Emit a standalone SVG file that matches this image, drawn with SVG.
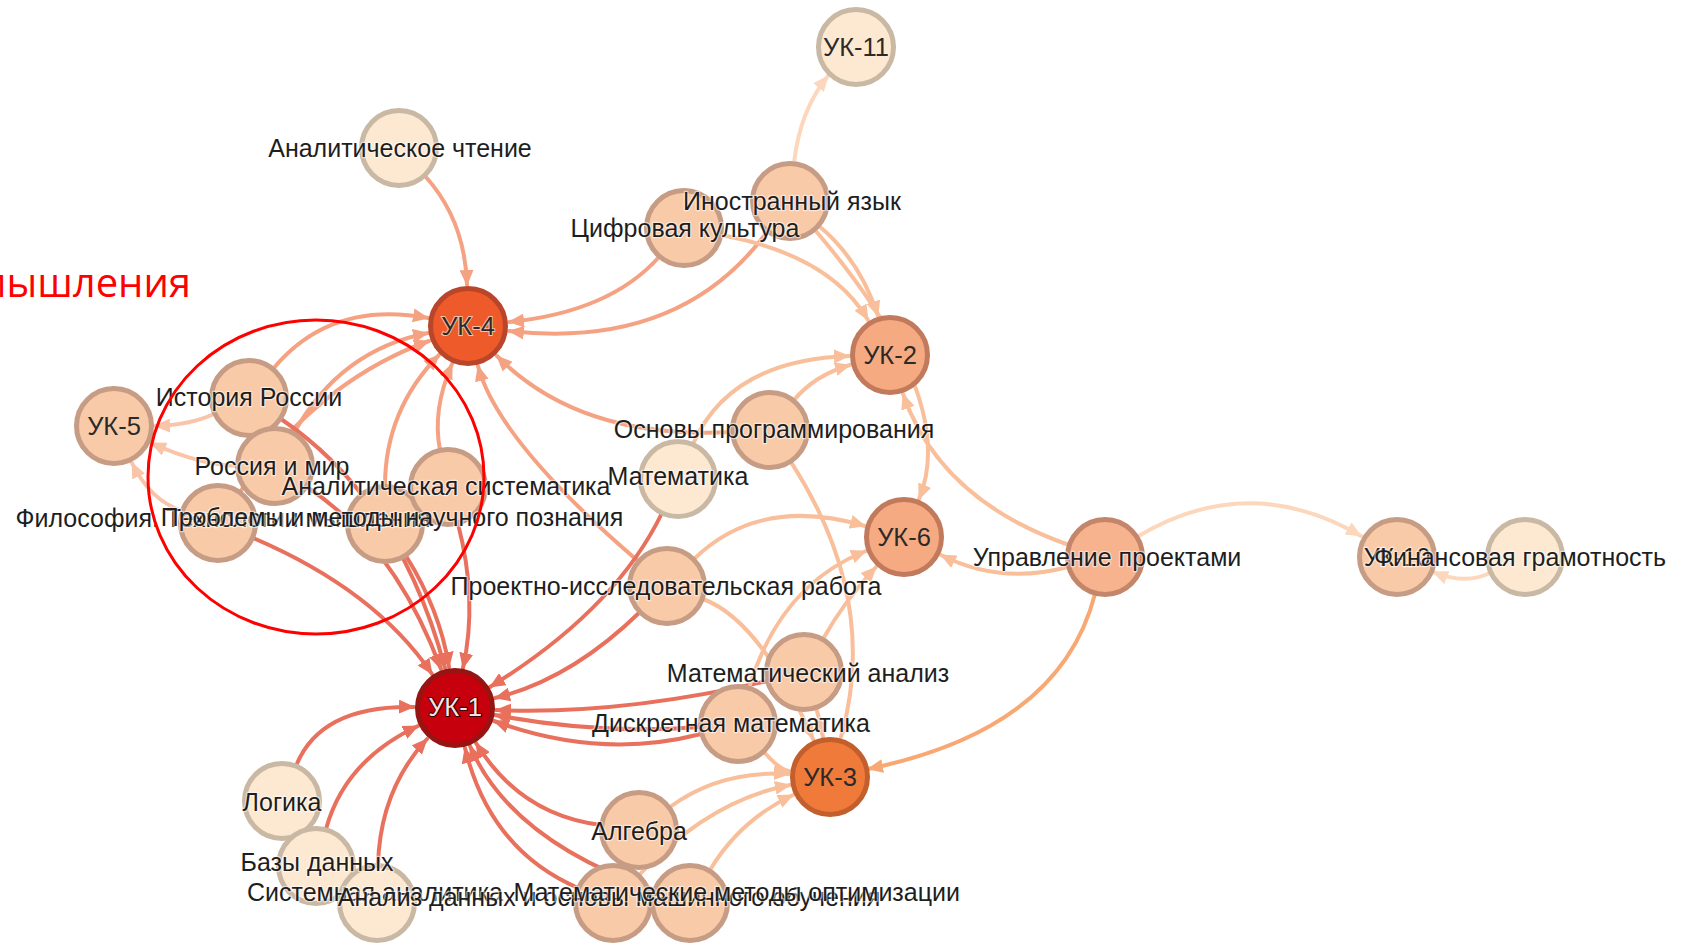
<svg xmlns="http://www.w3.org/2000/svg" width="1686" height="946" viewBox="0 0 1686 946">
<style>
.e{fill:none;stroke-width:4;stroke-linecap:round}
.c1{stroke:#e8705c}
.c4{stroke:#f5a283}
.c5{stroke:#f9c4a8}
.cp{stroke:#f9bf9b}
.co{stroke:#f8a872}
.cl{stroke:#fcd7bb}
.cream{fill:#fde9d2;stroke:#c8b8a4;stroke-width:5}
.peach{fill:#f9caa8;stroke:#c69c84;stroke-width:5}
.mid{fill:#f6aa82;stroke:#c27a5c;stroke-width:5}
.lbl{font-family:"Liberation Sans",Arial,sans-serif;font-size:25px;fill:#1e1e1e;text-anchor:middle;stroke:#ffffff;stroke-opacity:0.55;stroke-width:2.5;paint-order:stroke;stroke-linejoin:round}
.uk{font-family:"Liberation Sans",Arial,sans-serif;font-size:25.5px;fill:#2a2a2a;text-anchor:middle}
</style>
<defs>
<marker id="a1" markerUnits="userSpaceOnUse" markerWidth="16" markerHeight="14" viewBox="0 0 16 14" refX="15" refY="7" orient="auto"><path d="M0,0 L16,7 L0,14 z" fill="#e8705c"/></marker>
<marker id="a4" markerUnits="userSpaceOnUse" markerWidth="16" markerHeight="14" viewBox="0 0 16 14" refX="15" refY="7" orient="auto"><path d="M0,0 L16,7 L0,14 z" fill="#f5a283"/></marker>
<marker id="a5" markerUnits="userSpaceOnUse" markerWidth="16" markerHeight="14" viewBox="0 0 16 14" refX="15" refY="7" orient="auto"><path d="M0,0 L16,7 L0,14 z" fill="#f9c4a8"/></marker>
<marker id="ap" markerUnits="userSpaceOnUse" markerWidth="16" markerHeight="14" viewBox="0 0 16 14" refX="15" refY="7" orient="auto"><path d="M0,0 L16,7 L0,14 z" fill="#f9bf9b"/></marker>
<marker id="ao" markerUnits="userSpaceOnUse" markerWidth="16" markerHeight="14" viewBox="0 0 16 14" refX="15" refY="7" orient="auto"><path d="M0,0 L16,7 L0,14 z" fill="#f8a872"/></marker>
<marker id="al" markerUnits="userSpaceOnUse" markerWidth="16" markerHeight="14" viewBox="0 0 16 14" refX="15" refY="7" orient="auto"><path d="M0,0 L16,7 L0,14 z" fill="#fcd7bb"/></marker>
</defs>
<rect width="1686" height="946" fill="#ffffff"/>
<g id="edges">
<path class="e c4" marker-end="url(#a4)" d="M425,176 Q465,220 467,285"/>
<path class="e c4" marker-end="url(#a4)" d="M659,257 Q610,312 509,322"/>
<path class="e c4" marker-end="url(#a4)" d="M767,232 Q680,350 509,331"/>
<path class="e c4" marker-end="url(#a4)" d="M273,369 Q330,300 428,318"/>
<path class="e c4" marker-end="url(#a4)" d="M294,433 Q340,350 428,333"/>
<path class="e c4" marker-end="url(#a4)" d="M240,492 Q320,380 429,341"/>
<path class="e c4" marker-end="url(#a4)" d="M440,450 Q432,410 452,364"/>
<path class="e c4" marker-end="url(#a4)" d="M385,486 Q385,410 439,355"/>
<path class="e c4" marker-end="url(#a4)" d="M732,432 Q580,440 497,356"/>
<path class="e c4" marker-end="url(#a4)" d="M638,561 Q498,441 478,366"/>
<path class="e c5" marker-end="url(#a5)" d="M214,414 Q190,425 155,426"/>
<path class="e c5" marker-end="url(#a5)" d="M237,466 Q200,465 151,443"/>
<path class="e c5" marker-end="url(#a5)" d="M182,511 Q150,500 132,463"/>
<path class="e c1" marker-end="url(#a1)" d="M281,419 Q400,500 445,668"/>
<path class="e c1" marker-end="url(#a1)" d="M307,487 Q395,545 441,669"/>
<path class="e c1" marker-end="url(#a1)" d="M253,538 Q375,590 432,674"/>
<path class="e c1" marker-end="url(#a1)" d="M458,524 Q478,600 463,668"/>
<path class="e c1" marker-end="url(#a1)" d="M406,556 Q440,610 449,667"/>
<path class="e c1" marker-end="url(#a1)" d="M662,513 Q615,610 490,687"/>
<path class="e c1" marker-end="url(#a1)" d="M640,612 Q570,680 495,698"/>
<path class="e c1" marker-end="url(#a1)" d="M701,734 Q600,760 494,721"/>
<path class="e c1" marker-end="url(#a1)" d="M700,727 Q600,735 495,715"/>
<path class="e c1" marker-end="url(#a1)" d="M767,681 Q620,715 496,710"/>
<path class="e c1" marker-end="url(#a1)" d="M601,825 Q520,815 476,743"/>
<path class="e c1" marker-end="url(#a1)" d="M578,888 Q490,850 465,748"/>
<path class="e c1" marker-end="url(#a1)" d="M654,890 Q510,840 470,746"/>
<path class="e c1" marker-end="url(#a1)" d="M296,766 Q320,705 414,707"/>
<path class="e c1" marker-end="url(#a1)" d="M326,829 Q345,760 418,726"/>
<path class="e c1" marker-end="url(#a1)" d="M378,865 Q380,790 427,739"/>
<path class="e cp" marker-end="url(#ap)" d="M819,226 Q860,260 878,316"/>
<path class="e cp" marker-end="url(#ap)" d="M721,235 Q830,255 868,320"/>
<path class="e cp" marker-end="url(#ap)" d="M794,400 Q815,375 850,365"/>
<path class="e cp" marker-end="url(#ap)" d="M693,444 Q730,360 849,356"/>
<path class="e cp" marker-end="url(#ap)" d="M1069,545 Q940,500 903,394"/>
<path class="e cp" marker-end="url(#ap)" d="M815,230 Q960,400 919,499"/>
<path class="e cp" marker-end="url(#ap)" d="M694,559 Q760,495 865,526"/>
<path class="e cp" marker-end="url(#ap)" d="M823,639 Q845,600 876,567"/>
<path class="e cp" marker-end="url(#ap)" d="M749,688 Q780,585 866,551"/>
<path class="e cp" marker-end="url(#ap)" d="M1068,567 Q1000,585 941,555"/>
<path class="e co" marker-end="url(#ao)" d="M1095,594 Q1060,730 868,769"/>
<path class="e cp" marker-end="url(#ap)" d="M791,462 Q880,600 841,737"/>
<path class="e cp" marker-end="url(#ap)" d="M764,752 Q780,770 789,771"/>
<path class="e cp" marker-end="url(#ap)" d="M816,708 Q820,720 823,737"/>
<path class="e cp" marker-end="url(#ap)" d="M703,599 Q760,620 813,739"/>
<path class="e cp" marker-end="url(#ap)" d="M670,807 Q720,770 789,774"/>
<path class="e cp" marker-end="url(#ap)" d="M639,875 Q710,800 790,785"/>
<path class="e cp" marker-end="url(#ap)" d="M710,870 Q740,820 793,795"/>
<path class="e cl" marker-end="url(#al)" d="M794,163 Q800,110 828,76"/>
<path class="e cl" marker-end="url(#al)" d="M1137,537 Q1248,470 1361,536"/>
<path class="e cl" marker-end="url(#al)" d="M1490,573 Q1465,585 1433,572"/>
</g>
<g id="nodes">
<g id="node-uk11"><circle class="cream" cx="856" cy="47" r="37.5"/></g>
<g id="node-achten"><circle class="cream" cx="399" cy="148" r="37.5"/></g>
<g id="node-cifr"><circle class="peach" cx="684" cy="228" r="37.5"/></g>
<g id="node-inyaz"><circle class="peach" cx="790" cy="201" r="37.5"/></g>
<g id="node-uk4"><circle cx="468" cy="326" r="37.5" fill="#ee5a2a" stroke="#b9452a" stroke-width="5"/></g>
<g id="node-uk2"><circle class="mid" cx="890" cy="355" r="37.5"/></g>
<g id="node-uk5"><circle class="peach" cx="114" cy="426" r="37.5"/></g>
<g id="node-istor"><circle class="peach" cx="249" cy="398" r="37.5"/></g>
<g id="node-rossia"><circle class="peach" cx="275" cy="466" r="37.5"/></g>
<g id="node-filos"><circle class="peach" cx="218" cy="523" r="37.5"/></g>
<g id="node-nauch"><circle class="peach" cx="385" cy="524" r="37.5"/></g>
<g id="node-asist"><circle class="peach" cx="448" cy="487" r="37.5"/></g>
<g id="node-osnprog"><circle class="peach" cx="770" cy="430" r="37.5"/></g>
<g id="node-matem"><circle class="cream" cx="678" cy="479" r="37.5"/></g>
<g id="node-uk6"><circle class="mid" cx="904" cy="537" r="37.5"/></g>
<g id="node-uprav"><circle cx="1105" cy="557" r="37.5" fill="#f7b28e" stroke="#c4866a" stroke-width="5"/></g>
<g id="node-uk10"><circle class="peach" cx="1397" cy="557" r="37.5"/></g>
<g id="node-fin"><circle class="cream" cx="1525" cy="557" r="37.5"/></g>
<g id="node-proekt"><circle class="peach" cx="667" cy="586" r="37.5"/></g>
<g id="node-matan"><circle class="peach" cx="804" cy="672" r="37.5"/></g>
<g id="node-diskr"><circle class="peach" cx="738" cy="724" r="37.5"/></g>
<g id="node-uk1"><circle cx="455" cy="708" r="37.5" fill="#c6000c" stroke="#941512" stroke-width="5"/></g>
<g id="node-uk3"><circle cx="830" cy="777" r="37.5" fill="#f07a3a" stroke="#c25f2c" stroke-width="5"/></g>
<g id="node-logika"><circle class="cream" cx="282" cy="801" r="37.5"/></g>
<g id="node-algebra"><circle class="peach" cx="639" cy="830" r="37.5"/></g>
<g id="node-bazy"><circle class="cream" cx="316" cy="866" r="37.5"/></g>
<g id="node-sist"><circle class="cream" cx="377" cy="903" r="37.5"/></g>
<g id="node-analiz"><circle class="peach" cx="613" cy="903" r="37.5"/></g>
<g id="node-optim"><circle class="peach" cx="690" cy="903" r="37.5"/></g>
</g>
<g id="labels">
<text class="uk" x="856" y="56">УК-11</text>
<text class="lbl" x="400" y="157">Аналитическое чтение</text>
<text class="lbl" x="792" y="210">Иностранный язык</text>
<text class="lbl" x="685" y="237">Цифровая культура</text>
<text class="uk" x="468" y="335" style="stroke:#f6c0a4;stroke-width:2px;paint-order:stroke">УК-4</text>
<text class="uk" x="890" y="364">УК-2</text>
<text class="uk" x="114" y="435">УК-5</text>
<text class="lbl" x="249" y="406">История России</text>
<text class="lbl" x="272" y="475">Россия и мир</text>
<text class="lbl" x="446" y="495">Аналитическая систематика</text>
<text class="lbl" x="223" y="527">Философия. Технологии мышления</text>
<text class="lbl" x="392" y="526">Проблемы и методы научного познания</text>
<text class="lbl" x="774" y="438">Основы программирования</text>
<text class="lbl" x="678" y="485">Математика</text>
<text class="uk" x="904" y="546">УК-6</text>
<text class="lbl" x="1107" y="566">Управление проектами</text>
<text class="lbl" x="1397" y="566">УК-10</text>
<text class="lbl" x="1520" y="566">Финансовая грамотность</text>
<text class="lbl" x="666" y="595">Проектно-исследовательская работа</text>
<text class="lbl" x="808" y="682">Математический анализ</text>
<text class="lbl" x="731" y="732">Дискретная математика</text>
<text class="uk" x="455" y="716" style="fill:#f8e2e2;stroke:#3a0606;stroke-width:2.2px;paint-order:stroke">УК-1</text>
<text class="uk" x="830" y="786">УК-3</text>
<text class="lbl" x="282" y="811">Логика</text>
<text class="lbl" x="639" y="840">Алгебра</text>
<text class="lbl" x="317" y="871">Базы данных</text>
<text class="lbl" x="375" y="901">Системная аналитика</text>
<text class="lbl" x="609" y="906">Анализ данных и основы машинного обучения</text>
<text class="lbl" x="960" y="901" style="text-anchor:end">Математические методы оптимизации</text>
</g>
<g id="annotation">
<ellipse cx="316" cy="477" rx="168" ry="157" fill="none" stroke="#ff0000" stroke-width="3"/>
<text x="191" y="297" text-anchor="end" font-family="'Open Sans',sans-serif" font-size="40" fill="#ff0000">мышления</text>
</g>
</svg>
